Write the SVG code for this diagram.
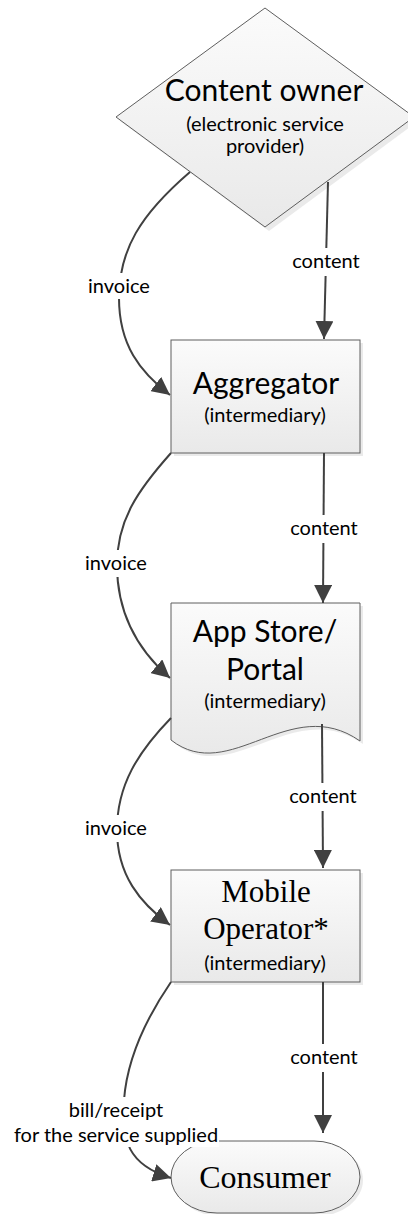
<svg xmlns="http://www.w3.org/2000/svg" width="408" height="1214" viewBox="0 0 408 1214">
<style>
.node{fill:url(#g);stroke:#5e5e5e;stroke-width:1}
.shadow{fill:#d9d9d9;opacity:0.55}
.title{font-family:Lato,"Open Sans",sans-serif;font-size:30px;fill:#000;text-anchor:middle}
.sub{font-family:Lato,"Open Sans",sans-serif;font-size:20px;fill:#000;text-anchor:middle}
.serif{font-family:"Liberation Serif","Times New Roman",serif;fill:#000;text-anchor:middle}
.lbl{font-family:Lato,"Open Sans",sans-serif;font-size:20px;fill:#000;text-anchor:middle}
.edge{fill:none;stroke:#404040;stroke-width:2}
.bg{fill:#fff}
</style>
<defs>
<linearGradient id="g" x1="0" y1="0" x2="0" y2="1">
<stop offset="0" stop-color="#fbfbfb"/>
<stop offset="1" stop-color="#e9e9e9"/>
</linearGradient>
<marker id="ah" markerUnits="userSpaceOnUse" markerWidth="18" markerHeight="18" viewBox="0 0 16 16" refX="16" refY="8" orient="auto">
<path d="M0,0 L16,8 L0,16 z" fill="#404040"/>
</marker>
</defs>
<rect width="408" height="1214" fill="#fff"/>

<g id="content-owner">
<polygon class="shadow" points="269,12 418,121 269,231 120,121"/>
<polygon class="node" points="265,8 414,117 265,227 116,117"/>
<text class="title" x="264" y="101">Content owner</text>
<text class="sub" x="265" y="131">(electronic service</text>
<text class="sub" x="265" y="153">provider)</text>
</g>

<g id="aggregator">
<rect class="shadow" x="174" y="343" width="189" height="113"/>
<rect class="node" x="171" y="340" width="189" height="113"/>
<text class="title" x="266" y="394">Aggregator</text>
<text class="sub" x="265" y="422">(intermediary)</text>
</g>

<g id="app-store">
<path class="shadow" d="M174,606 L363,606 L363,744 C293,695 233,789 174,743 z"/>
<path class="node" d="M171,603 L360,603 L360,741 C290,692 230,786 171,740 z"/>
<text class="title" x="265" y="642">App Store/</text>
<text class="title" x="265" y="680">Portal</text>
<text class="sub" x="265" y="708">(intermediary)</text>
</g>

<g id="mobile-operator">
<rect class="shadow" x="174" y="873" width="189" height="112"/>
<rect class="node" x="171" y="870" width="189" height="112"/>
<text class="serif" x="266" y="902" font-size="31">Mobile</text>
<text class="serif" x="266" y="939" font-size="31">Operator*</text>
<text class="sub" x="265" y="970">(intermediary)</text>
</g>

<g id="consumer">
<rect class="shadow" x="174" y="1144" width="189" height="72" rx="46" ry="36"/>
<rect class="node" x="171" y="1141" width="189" height="72" rx="46" ry="36"/>
<text class="serif" x="265" y="1188" font-size="32">Consumer</text>
</g>

<g id="connectors">
<path class="edge" d="M328,182 L324,339" marker-end="url(#ah)"/>
<rect class="bg" x="290" y="248" width="72" height="28"/>
<text class="lbl" x="326" y="268">content</text>

<path class="edge" d="M190,172 C140,215 119,250 119,298 C119,345 140,372 170,395" marker-end="url(#ah)"/>
<rect class="bg" x="86" y="273" width="68" height="26"/>
<text class="lbl" x="119" y="293">invoice</text>

<path class="edge" d="M324,453 L323,603" marker-end="url(#ah)"/>
<rect class="bg" x="288" y="515" width="72" height="28"/>
<text class="lbl" x="324" y="535">content</text>

<path class="edge" d="M171,453 C138,490 117,520 117,565 C117,615 140,652 170,678" marker-end="url(#ah)"/>
<rect class="bg" x="82" y="550" width="68" height="27"/>
<text class="lbl" x="116" y="570">invoice</text>

<path class="edge" d="M322,724 L323,868" marker-end="url(#ah)"/>
<rect class="bg" x="287" y="783" width="72" height="28"/>
<text class="lbl" x="323" y="803">content</text>

<path class="edge" d="M171,718 C138,752 117,785 117,830 C117,875 140,903 170,925" marker-end="url(#ah)"/>
<rect class="bg" x="82" y="815" width="68" height="27"/>
<text class="lbl" x="116" y="835">invoice</text>

<path class="edge" d="M323,982 L323,1133" marker-end="url(#ah)"/>
<rect class="bg" x="288" y="1044" width="72" height="28"/>
<text class="lbl" x="324" y="1064">content</text>

<path class="edge" d="M171,982 C145,1020 127,1060 124,1100 C121,1140 128,1165 171,1178" marker-end="url(#ah)"/>
<rect class="bg" x="13" y="1097" width="206" height="50"/>
<text class="lbl" x="116" y="1117">bill/receipt</text>
<text class="lbl" x="116" y="1142">for the service supplied</text>
</g>
</svg>
